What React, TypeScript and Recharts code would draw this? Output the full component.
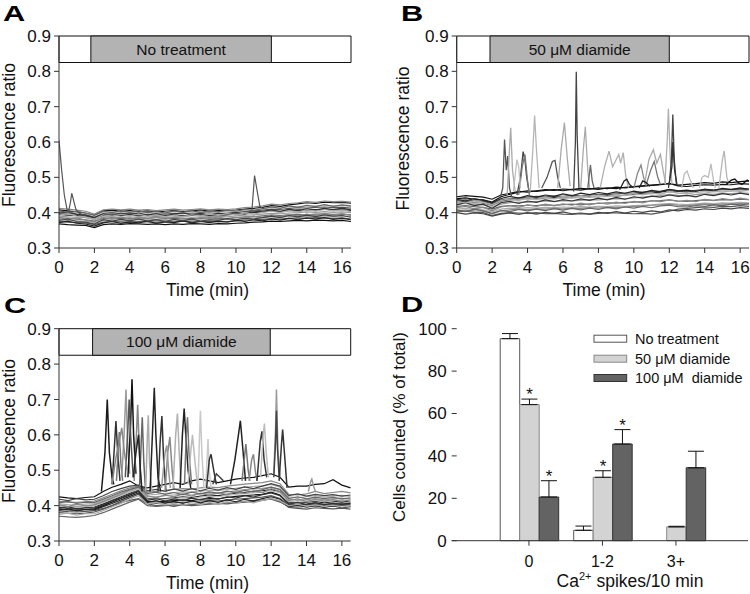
import React from "react";
import { LineChart, Line, XAxis, YAxis, ReferenceArea, BarChart, Bar, ErrorBar, LabelList } from "recharts";

const FONT = "Arial, 'Liberation Sans', Helvetica, sans-serif";

// ---------- shared axes ----------
const TIMES = [0, 0.5, 1, 1.5, 2, 2.5, 3, 3.5, 4, 4.5, 5, 5.5, 6, 6.5, 7, 7.5, 8, 8.5, 9, 9.5, 10, 10.5, 11, 11.5, 12, 12.5, 13, 13.5, 14, 14.5, 15, 15.5, 16, 16.5];
const TIME_TICKS = [0, 2, 4, 6, 8, 10, 12, 14, 16];
const RATIO_TICKS = [0.3, 0.4, 0.5, 0.6, 0.7, 0.8, 0.9];
const TREATMENT_LABELS = ["No treatment", "50 \u03bcM diamide", "100 \u03bcM diamide"];
const TREATMENT_START = [1.8, 1.88, 1.9];
const TREATMENT_END = [12, 12, 11.95];
const TREATMENT_BAND = [0.825, 0.9];

// ---------- Panel A: baseline traces (ratio x1000) ----------
const A_T1 = [408,405,402,398,392,405,407,404,406,403,405,402,404,406,403,405,408,404,406,405,407,410,412,415,420,418,422,425,428,426,430,428,429,427];
const A_T2 = [400,398,396,394,388,398,399,397,398,396,395,397,396,398,397,399,398,400,397,399,401,403,405,407,410,409,412,414,413,415,416,414,415,413];
const A_T3 = [395,393,392,390,385,392,394,392,393,391,392,390,392,393,391,392,394,393,392,394,396,398,400,402,405,404,406,408,407,409,410,408,409,406];
const A_T4 = [390,388,387,386,380,388,389,387,388,386,387,388,386,388,389,387,388,389,390,388,391,393,394,396,398,397,399,400,402,401,403,401,402,400];
const A_T5 = [385,384,382,380,376,383,385,383,384,382,383,381,383,384,382,384,383,385,384,383,386,388,389,391,393,392,394,395,394,396,397,395,396,394];
const A_T6 = [380,378,377,376,372,378,380,379,378,380,377,379,378,380,379,378,380,379,381,380,382,383,385,386,388,387,389,390,389,391,390,389,391,388];
const A_T7 = [368,366,365,364,358,366,368,367,369,368,367,368,366,368,367,369,368,367,369,368,370,371,373,374,376,375,377,378,377,379,378,377,378,375];
const A_T8 = [375,373,372,371,366,373,375,374,373,375,374,373,375,374,376,374,375,376,374,375,377,379,380,381,383,382,384,385,384,386,385,384,385,382];
const A_T9 = [412,410,407,404,396,408,410,408,410,407,409,406,408,410,407,409,411,408,410,409,411,414,416,419,424,422,426,428,431,429,433,431,432,430];
const A_T10 = [403,401,399,397,390,401,403,400,402,400,401,399,401,403,400,402,403,402,401,403,405,407,409,411,414,413,416,418,417,419,421,419,420,418];
const A_T11 = [398,402,395,393,386,396,392,398,394,399,393,397,391,396,399,394,397,392,398,395,400,396,402,404,408,403,410,405,411,407,412,409,413,408];
const A_T12 = [386,382,385,379,374,386,382,388,381,386,383,388,382,387,384,380,386,383,388,382,387,384,390,386,393,389,395,391,396,392,398,393,397,392];
const A_T13 = [372,376,370,368,362,371,375,370,374,371,376,370,374,372,377,371,375,372,376,373,378,375,380,377,382,379,384,380,385,382,386,381,384,380];
const A_T14 = [405,401,404,399,393,404,400,406,401,405,400,404,399,405,401,406,400,405,402,407,404,409,406,411,416,412,419,415,421,417,423,418,422,419];
const A_T15 = [393,397,390,388,382,394,390,395,391,396,390,394,389,393,388,394,391,396,392,397,394,399,396,401,404,400,406,402,408,404,409,405,408,403];
const A_T16 = [378,382,375,373,368,380,376,381,377,382,376,380,375,381,377,382,376,380,378,383,380,384,382,386,390,386,392,388,393,389,394,390,392,387];
const A_SPIKES: number[][][] = [
  [[0,0.605],[0.15,0.52],[0.3,0.45],[0.45,0.41],[0.55,0.405],[0.65,0.43],[0.72,0.455],[0.8,0.44],[0.95,0.41],[1.1,0.4],[1.3,0.395]],
  [[10.7,0.402],[10.9,0.405],[11.05,0.505],[11.2,0.46],[11.35,0.418],[11.55,0.41]],
];

// ---------- Panel B ----------
const B_T1 = [440,442,438,436,430,445,452,458,462,460,463,465,462,466,464,468,466,470,468,472,474,476,478,480,482,478,480,482,485,483,487,485,488,490];
const B_T2 = [402,404,401,400,392,398,400,399,398,400,397,398,396,395,397,396,398,400,399,398,397,398,396,400,404,410,412,414,416,415,418,417,420,418];
const B_T3 = [430,432,428,426,420,432,436,438,440,442,440,443,441,444,443,446,445,448,446,450,452,455,456,458,462,460,459,462,464,463,466,465,467,466];
const B_T4 = [425,426,424,422,415,424,428,430,429,431,433,432,434,433,435,437,436,438,440,439,442,444,446,448,452,449,448,451,453,452,455,454,456,455];
const B_T5 = [418,420,417,415,410,418,420,419,421,420,422,421,423,424,422,425,426,428,427,429,430,431,433,434,436,433,432,434,436,435,437,436,438,437];
const B_T6 = [410,412,409,408,402,410,413,412,414,413,415,414,416,415,417,416,418,417,419,418,420,421,422,424,426,424,423,425,427,426,428,427,429,428];
const B_T7 = [445,448,446,444,438,450,455,460,458,462,465,463,467,465,469,467,470,468,472,470,473,475,477,479,483,476,474,477,479,478,480,479,482,481];
const B_T8 = [435,436,434,432,425,436,440,442,444,446,445,447,446,449,448,450,452,451,453,455,456,458,460,461,465,462,460,463,465,464,466,466,468,467];
const B_T9 = [405,407,405,404,396,405,408,410,409,411,410,412,411,413,412,414,413,415,414,416,418,419,421,422,424,421,420,422,424,423,425,424,426,425];
const B_T10 = [428,430,427,425,418,430,434,436,438,437,440,439,442,441,443,444,446,445,447,449,450,452,453,455,458,456,455,458,460,459,462,461,463,462];
const B_T11 = [422,428,420,424,412,428,432,426,433,429,436,431,437,433,439,435,441,436,443,438,445,441,447,444,450,446,449,445,452,448,454,450,455,451];
const B_T12 = [414,418,411,415,405,416,420,415,422,418,424,419,425,421,427,422,428,424,430,426,432,428,434,431,436,432,435,431,438,434,440,436,441,437];
const B_T13 = [438,433,440,435,428,440,446,441,448,444,450,446,453,448,455,451,457,453,459,455,461,457,463,459,466,462,464,460,467,463,469,465,470,466];
const B_T14 = [408,403,410,405,398,406,403,409,405,410,406,411,407,412,408,413,409,415,411,416,413,418,414,419,421,417,416,420,418,422,420,424,422,425];
const B_T15 = [432,427,434,429,422,434,439,435,442,438,444,440,446,442,448,444,450,446,452,448,454,450,456,452,460,455,453,457,455,460,458,462,460,464];
const B_T16 = [400,396,399,397,390,396,399,395,400,396,401,398,402,397,399,396,401,398,403,399,404,401,405,402,408,405,409,407,411,409,413,411,414,412];
const B_SPIKES: number[][][] = [
  [[2.45,0.44],[2.6,0.47],[2.7,0.607],[2.8,0.52],[2.88,0.56],[2.98,0.47],[3.1,0.445]],
  [[2.85,0.45],[3.0,0.6],[3.05,0.64],[3.15,0.52],[3.3,0.46]],
  [[3.4,0.45],[3.6,0.5],[3.75,0.573],[3.85,0.55],[3.95,0.5],[4.1,0.455]],
  [[3.5,0.45],[3.7,0.53],[3.85,0.565],[4.0,0.49],[4.1,0.45]],
  [[4.15,0.46],[4.3,0.58],[4.4,0.675],[4.5,0.58],[4.65,0.47]],
  [[3.2,0.46],[3.4,0.55],[3.5,0.53],[3.6,0.47]],
  [[4.8,0.47],[5.1,0.5],[5.4,0.545],[5.55,0.548],[5.7,0.5],[5.85,0.47]],
  [[5.7,0.47],[5.9,0.58],[6.08,0.655],[6.25,0.55],[6.4,0.475]],
  [[6.6,0.46],[6.7,0.6],[6.75,0.799],[6.8,0.62],[6.9,0.47]],
  [[7.0,0.47],[7.15,0.58],[7.26,0.643],[7.4,0.52],[7.5,0.47]],
  [[7.4,0.47],[7.55,0.535],[7.65,0.49],[7.75,0.47]],
  [[8.1,0.47],[8.35,0.53],[8.6,0.574],[8.8,0.53],[9.0,0.55],[9.15,0.565],[9.25,0.54],[9.4,0.57],[9.55,0.5],[9.7,0.47]],
  [[9.2,0.465],[9.45,0.49],[9.6,0.495],[9.75,0.48],[10.0,0.47]],
  [[10.0,0.47],[10.2,0.51],[10.4,0.535],[10.55,0.5],[10.7,0.475]],
  [[10.6,0.48],[10.85,0.55],[11.1,0.578],[11.3,0.54],[11.5,0.565],[11.65,0.52],[11.8,0.48]],
  [[10.7,0.48],[10.95,0.52],[11.15,0.545],[11.35,0.5],[11.5,0.48]],
  [[11.75,0.48],[11.88,0.6],[11.95,0.695],[12.05,0.56],[12.15,0.48]],
  [[12.0,0.48],[12.12,0.55],[12.2,0.678],[12.28,0.55],[12.4,0.48]],
  [[11.95,0.47],[12.15,0.53],[12.2,0.6],[12.3,0.52],[12.45,0.475]],
  [[12.7,0.47],[12.85,0.51],[13.0,0.518],[13.2,0.49],[13.35,0.47]],
  [[13.7,0.47],[13.85,0.5],[14.0,0.505],[14.2,0.5],[14.35,0.538],[14.5,0.49],[14.6,0.47]],
  [[14.8,0.47],[15.0,0.55],[15.1,0.575],[15.25,0.5],[15.4,0.475]],
  [[15.2,0.48],[15.5,0.492],[15.7,0.495],[15.9,0.485],[16.1,0.48],[16.4,0.492],[16.5,0.488]],
  [[10.3,0.47],[10.5,0.49],[10.7,0.485],[10.9,0.475]],
];

// ---------- Panel C ----------
const C_T1 = [425,422,420,423,425,440,452,460,470,455,450,455,460,465,460,470,475,470,465,470,475,478,480,485,490,480,452,455,455,460,462,473,458,450];
const C_T2 = [385,383,382,384,386,392,400,408,415,420,405,400,402,398,403,400,402,404,406,405,408,410,412,415,420,412,395,392,390,394,392,391,393,390];
const C_T3 = [395,393,392,394,396,405,415,425,435,445,420,418,420,422,425,423,427,430,428,432,435,437,440,442,445,440,410,408,410,412,408,411,413,410];
const C_T4 = [400,398,397,399,401,410,420,430,440,448,425,425,428,430,432,430,434,436,435,439,442,445,447,449,452,445,418,415,417,420,416,419,421,418];
const C_T5 = [370,368,367,369,372,380,390,400,410,418,400,398,400,402,401,403,405,406,405,408,410,412,414,416,418,410,398,396,398,400,397,399,401,398];
const C_T6 = [405,403,402,404,406,415,425,435,442,450,430,432,435,437,439,438,441,443,442,446,449,452,454,456,460,452,425,422,425,428,424,427,429,426];
const C_T7 = [390,388,387,389,391,400,410,420,430,440,412,410,412,414,416,414,418,420,419,423,426,428,430,432,438,430,405,402,404,408,403,406,408,405];
const C_T8 = [380,378,377,379,382,390,400,412,422,432,408,406,408,410,409,411,413,414,413,416,418,420,422,424,428,420,402,400,402,404,401,403,405,402];
const C_T9 = [412,410,409,411,413,422,432,442,450,455,438,440,443,446,448,447,450,452,451,455,458,461,463,465,470,462,432,430,433,440,434,437,440,436];
const C_T10 = [398,396,395,397,399,408,418,428,438,446,418,416,418,420,422,420,424,426,425,429,432,434,436,438,442,436,412,410,412,415,411,414,416,413];
const C_T11 = [392,397,390,394,393,402,414,422,432,442,415,420,413,419,414,421,416,423,418,425,421,428,424,431,436,428,404,409,403,408,402,407,403,406];
const C_T12 = [402,397,404,399,403,412,422,432,444,452,428,422,430,425,433,427,435,429,437,431,439,434,442,436,448,440,414,419,412,418,413,417,412,416];
const C_T13 = [387,391,385,389,388,397,406,416,426,436,409,414,407,412,406,413,408,414,409,416,411,418,413,420,425,418,397,402,396,400,395,399,394,397];
const C_T14 = [408,412,406,410,409,418,428,438,446,453,434,438,432,437,431,438,433,439,435,441,437,443,439,445,452,446,420,425,419,424,420,423,419,422];
const C_T15 = [375,379,373,377,377,386,396,406,418,428,404,409,402,407,401,408,403,409,404,411,406,413,408,415,420,414,399,404,398,402,397,401,396,399];
const C_T16 = [418,414,420,416,418,428,440,448,455,458,442,446,440,447,441,448,442,449,444,451,446,453,448,455,462,455,428,433,427,432,428,431,427,430];
const C_SPIKES: number[][][] = [
  [[2.4,0.44],[2.6,0.55],[2.73,0.7],[2.85,0.55],[3.0,0.48],[3.1,0.46]],
  [[3.0,0.46],[3.15,0.58],[3.22,0.639],[3.32,0.55],[3.45,0.47]],
  [[3.25,0.47],[3.35,0.56],[3.41,0.608],[3.5,0.52],[3.6,0.47]],
  [[3.55,0.48],[3.7,0.62],[3.79,0.728],[3.88,0.58],[4.0,0.49]],
  [[3.9,0.48],[4.05,0.63],[4.13,0.757],[4.22,0.6],[4.35,0.49]],
  [[3.75,0.48],[3.9,0.62],[3.97,0.7],[4.05,0.6],[4.2,0.48]],
  [[4.25,0.47],[4.38,0.6],[4.45,0.685],[4.55,0.55],[4.65,0.46]],
  [[4.55,0.45],[4.65,0.58],[4.71,0.65],[4.8,0.52],[4.9,0.44]],
  [[4.9,0.44],[5.0,0.6],[5.05,0.655],[5.12,0.52],[5.25,0.44]],
  [[5.15,0.44],[5.3,0.62],[5.39,0.733],[5.48,0.6],[5.6,0.48],[5.75,0.44]],
  [[5.6,0.44],[5.72,0.58],[5.82,0.653],[5.92,0.53],[6.05,0.44]],
  [[6.0,0.44],[6.15,0.55],[6.27,0.594],[6.4,0.5],[6.5,0.45]],
  [[6.45,0.45],[6.6,0.6],[6.7,0.66],[6.8,0.55],[6.9,0.46]],
  [[6.85,0.45],[6.98,0.6],[7.08,0.674],[7.17,0.6],[7.3,0.5],[7.45,0.45]],
  [[7.1,0.46],[7.2,0.6],[7.27,0.65],[7.35,0.55],[7.5,0.46]],
  [[7.85,0.44],[7.95,0.6],[8.0,0.668],[8.08,0.55],[8.2,0.45]],
  [[8.3,0.45],[8.4,0.56],[8.43,0.588],[8.5,0.5],[8.6,0.45]],
  [[8.35,0.45],[8.5,0.53],[8.6,0.545],[8.75,0.5],[8.9,0.46]],
  [[5.8,0.45],[6.0,0.55],[6.1,0.57],[6.2,0.5],[6.3,0.45]],
  [[9.7,0.46],[9.95,0.53],[10.15,0.6],[10.26,0.64],[10.4,0.56],[10.55,0.47]],
  [[10.35,0.47],[10.5,0.54],[10.57,0.574],[10.7,0.5],[10.8,0.47]],
  [[10.75,0.47],[10.9,0.53],[11.0,0.545],[11.1,0.5],[11.2,0.47]],
  [[11.2,0.47],[11.38,0.58],[11.48,0.61],[11.6,0.53],[11.75,0.48]],
  [[11.4,0.48],[11.55,0.6],[11.62,0.632],[11.72,0.55],[11.85,0.48]],
  [[12.15,0.49],[12.25,0.62],[12.3,0.728],[12.38,0.56],[12.5,0.48]],
  [[12.15,0.48],[12.25,0.58],[12.3,0.668],[12.36,0.56],[12.45,0.48]],
  [[12.45,0.47],[12.58,0.57],[12.65,0.615],[12.75,0.55],[12.9,0.45]],
  [[14.1,0.44],[14.25,0.47],[14.3,0.475],[14.4,0.455],[14.5,0.44]],
  [[3.0,0.46],[3.2,0.53],[3.4,0.58],[3.55,0.62],[3.7,0.55],[3.85,0.5]],
  [[4.2,0.48],[4.35,0.55],[4.5,0.6],[4.6,0.5],[4.7,0.44]],
  [[7.3,0.46],[7.45,0.55],[7.55,0.6],[7.7,0.52],[7.85,0.45]],
  [[8.7,0.46],[8.9,0.49],[9.1,0.48],[9.3,0.47]],
];

// ---------- Panel D ----------
const D_CATEGORIES = ["0", "1-2", "3+"];
const D_NO_TREATMENT = [95.3, 4.9, 0];
const D_NO_TREATMENT_ERR = [2.4, 2.0, 0];
const D_DIAMIDE_50 = [64.2, 29.9, 6.5];
const D_DIAMIDE_50_ERR = [2.6, 3.1, 0.3];
const D_DIAMIDE_100 = [20.6, 45.6, 34.4];
const D_DIAMIDE_100_ERR = [7.7, 6.8, 7.8];
const D_STAR_50 = [true, true, false];
const D_STAR_100 = [true, true, false];
const D_Y_TICKS = [0, 20, 40, 60, 80, 100];
const D_LEGEND = ["No treatment", "50 \u03bcM diamide", "100 \u03bcM  diamide"];

// ---------- styles ----------
const BASE_COLORS = ["#111", "#555", "#222", "#999", "#666", "#aaa", "#111", "#555", "#888", "#bbb", "#333", "#888", "#222", "#666", "#aaa", "#444"];
const A_SPIKE_COLORS = ["#555", "#555"];
const B_SPIKE_COLORS = ["#555", "#aaa", "#444", "#777", "#b5b5b5", "#c0c0c0", "#555", "#aaa", "#444", "#aaa", "#666", "#b0b0b0", "#222", "#888", "#aaa", "#777", "#b0b0b0", "#444", "#333", "#bbb", "#bbb", "#b5b5b5", "#111", "#222"];
const C_SPIKE_COLORS = ["#1a1a1a", "#333", "#777", "#999", "#111", "#555", "#888", "#666", "#aaa", "#222", "#333", "#888", "#b0b0b0", "#222", "#777", "#c8c8c8", "#ccc", "#333", "#999", "#222", "#777", "#888", "#333", "#bbb", "#999", "#444", "#333", "#999", "#888", "#222", "#bbb", "#444"];
const BAR_FILLS = ["#ffffff", "#d3d3d3", "#636363"];
const BAR_STROKES = ["#555", "#888", "#333"];

type Pt = { t: number; v: number };
const toTrace = (vals: number[]): Pt[] => TIMES.map((t, i) => ({ t, v: vals[i] / 1000 }));
const toSeg = (pairs: number[][]): Pt[] => pairs.map(([t, v]) => ({ t, v }));

const PANELS = [
  { base: [A_T1, A_T2, A_T3, A_T4, A_T5, A_T6, A_T7, A_T8, A_T9, A_T10, A_T11, A_T12, A_T13, A_T14, A_T15, A_T16], spikes: A_SPIKES, spikeColors: A_SPIKE_COLORS, spikeWidth: 1.2, left: 0, top: 0, yWidth: 59, xHeight: 49, mTop: 36, mRight: 24 },
  { base: [B_T1, B_T2, B_T3, B_T4, B_T5, B_T6, B_T7, B_T8, B_T9, B_T10, B_T11, B_T12, B_T13, B_T14, B_T15, B_T16], spikes: B_SPIKES, spikeColors: B_SPIKE_COLORS, spikeWidth: 1.3, left: 375, top: 0, yWidth: 81.7, xHeight: 49, mTop: 36, mRight: 1 },
  { base: [C_T1, C_T2, C_T3, C_T4, C_T5, C_T6, C_T7, C_T8, C_T9, C_T10, C_T11, C_T12, C_T13, C_T14, C_T15, C_T16], spikes: C_SPIKES, spikeColors: C_SPIKE_COLORS, spikeWidth: 1.5, left: 0, top: 297, yWidth: 59, xHeight: 53, mTop: 31.7, mRight: 24.3 },
];

const tickStyle = { fill: "#111", fontSize: 17, fontFamily: FONT };
const dTickStyle = { fill: "#111", fontSize: 16, fontFamily: FONT };

function TracePanel({ idx }: { idx: number }) {
  const p = PANELS[idx];
  return (
    <div style={{ position: "absolute", left: p.left, top: p.top }}>
      <LineChart width={375} height={297} margin={{ top: p.mTop, right: p.mRight, bottom: 0, left: 0 }}>
        <XAxis type="number" dataKey="t" domain={[0, 16.5]} ticks={TIME_TICKS} interval={0} height={p.xHeight} tickSize={5} tickMargin={8} stroke="#333" tick={tickStyle} allowDataOverflow />
        <YAxis type="number" dataKey="v" domain={[0.3, 0.9]} ticks={RATIO_TICKS} interval={0} width={p.yWidth} tickSize={5} tickMargin={3} stroke="#333" tick={tickStyle} tickFormatter={(v: number) => v.toFixed(1)} allowDataOverflow />
        <ReferenceArea x1={0} x2={16.5} y1={TREATMENT_BAND[0]} y2={TREATMENT_BAND[1]} fill="#ffffff" fillOpacity={1} stroke="#111" strokeWidth={1} />
        <ReferenceArea
          x1={TREATMENT_START[idx]}
          x2={TREATMENT_END[idx]}
          y1={TREATMENT_BAND[0]}
          y2={TREATMENT_BAND[1]}
          fill="#b3b3b3"
          fillOpacity={1}
          stroke="#111"
          strokeWidth={1}
          label={{ value: TREATMENT_LABELS[idx], position: "center", fill: "#111", fontSize: 15.5, fontFamily: FONT }}
        />
        {p.base.map((vals, i) => (
          <Line key={"b" + i} data={toTrace(vals)} dataKey="v" type="linear" stroke={BASE_COLORS[i]} strokeWidth={1.2} dot={false} activeDot={false} isAnimationActive={false} />
        ))}
        {p.spikes.map((seg, i) => (
          <Line key={"s" + i} data={toSeg(seg)} dataKey="v" type="linear" stroke={p.spikeColors[i]} strokeWidth={p.spikeWidth} dot={false} activeDot={false} isAnimationActive={false} />
        ))}
      </LineChart>
    </div>
  );
}

const D_DATA = D_CATEGORIES.map((cat, i) => ({
  cat,
  nt: D_NO_TREATMENT[i],
  ntErr: [0, D_NO_TREATMENT_ERR[i]],
  d50: D_DIAMIDE_50[i],
  d50Err: [0, D_DIAMIDE_50_ERR[i]],
  d100: D_DIAMIDE_100[i],
  d100Err: [0, D_DIAMIDE_100_ERR[i]],
}));

const starLabel = (errs: number[], stars: boolean[]) => (props: any) => {
  const vb = props.viewBox && props.viewBox.width !== undefined ? props.viewBox : props;
  const { x, y, width, height } = vb;
  const idx = props.index;
  const value = Number(props.value);
  if (!stars[idx] || !value) return null;
  const top = Math.min(y, y + height);
  const pxPerUnit = Math.abs(height) / value;
  const errTop = top - errs[idx] * pxPerUnit;
  return (
    <text x={x + width / 2} y={errTop + 1} textAnchor="middle" fontSize={17} fontFamily={FONT} fill="#111">
      *
    </text>
  );
};

const DYTick = (props: any) => {
  const { x, y, payload } = props;
  return (
    <g>
      <line x1={x + 5} x2={x + 10} y1={y} y2={y} stroke="#333" />
      <text x={x} y={y} dy="0.35em" textAnchor="end" fontSize={17} fontFamily={FONT} fill="#111">
        {payload.value}
      </text>
    </g>
  );
};

function BarPanel() {
  return (
    <div style={{ position: "absolute", left: 375, top: 297 }}>
      <BarChart width={375} height={297} data={D_DATA} margin={{ top: 31.7, right: 2, bottom: 0, left: 0 }} barGap={0} barSize={19.5}>
        <XAxis dataKey="cat" height={53.3} padding={{ left: 40.5, right: 35.3 }} interval={0} tickSize={5} tickMargin={10} stroke="#333" tick={dTickStyle} />
        <YAxis type="number" domain={[0, 100]} ticks={D_Y_TICKS} interval={0} width={76.7} axisLine={false} tickLine={false} tickSize={5} tickMargin={0} tick={DYTick} />
        <Bar dataKey="nt" fill={BAR_FILLS[0]} stroke={BAR_STROKES[0]} strokeWidth={1} isAnimationActive={false}>
          <ErrorBar dataKey="ntErr" width={8} stroke="#111" strokeWidth={1} direction="y" />
        </Bar>
        <Bar dataKey="d50" fill={BAR_FILLS[1]} stroke={BAR_STROKES[1]} strokeWidth={1} isAnimationActive={false}>
          <ErrorBar dataKey="d50Err" width={8} stroke="#111" strokeWidth={1} direction="y" />
          <LabelList dataKey="d50" content={starLabel(D_DIAMIDE_50_ERR, D_STAR_50)} />
        </Bar>
        <Bar dataKey="d100" fill={BAR_FILLS[2]} stroke={BAR_STROKES[2]} strokeWidth={1} isAnimationActive={false}>
          <ErrorBar dataKey="d100Err" width={8} stroke="#111" strokeWidth={1} direction="y" />
          <LabelList dataKey="d100" content={starLabel(D_DIAMIDE_100_ERR, D_STAR_100)} />
        </Bar>
      </BarChart>
    </div>
  );
}

function Overlay() {
  const legendRows = [338.7, 358.7, 378];
  return (
    <svg width={750} height={594} style={{ position: "absolute", left: 0, top: 0, pointerEvents: "none" }} fontFamily={FONT}>
      <text transform="translate(3,21) scale(1.4,1)" fontSize={22} fontWeight="bold" fill="#000">A</text>
      <text transform="translate(401,21) scale(1.4,1)" fontSize={22} fontWeight="bold" fill="#000">B</text>
      <text transform="translate(4,313) scale(1.4,1)" fontSize={22} fontWeight="bold" fill="#000">C</text>
      <text transform="translate(401,312) scale(1.4,1)" fontSize={22} fontWeight="bold" fill="#000">D</text>

      <text transform="translate(15,135) rotate(-90)" textAnchor="middle" fontSize={17.5} fill="#111">Fluorescence ratio</text>
      <text transform="translate(408.5,138.5) rotate(-90)" textAnchor="middle" fontSize={17.5} fill="#111">Fluorescence ratio</text>
      <text transform="translate(15,431) rotate(-90)" textAnchor="middle" fontSize={17.5} fill="#111">Fluorescence ratio</text>
      <text transform="translate(405,427) rotate(-90)" textAnchor="middle" fontSize={17} fill="#111">Cells counted (% of total)</text>

      <text x={207.5} y={296} textAnchor="middle" fontSize={17.5} fill="#111">Time (min)</text>
      <text x={604} y={296} textAnchor="middle" fontSize={17.5} fill="#111">Time (min)</text>
      <text x={207.5} y={589} textAnchor="middle" fontSize={17.5} fill="#111">Time (min)</text>
      <text x={630} y={587} textAnchor="middle" fontSize={17.5} fill="#111">
        Ca<tspan dy={-7} fontSize={11}>2+</tspan>
        <tspan dy={7}> spikes/10 min</tspan>
      </text>

      {D_LEGEND.map((name, i) => (
        <g key={name}>
          <rect x={594} y={legendRows[i] - 3.5} width={32.7} height={7} fill={BAR_FILLS[i]} stroke={BAR_STROKES[i]} strokeWidth={1} />
          <text x={635} y={legendRows[i] + 5} fontSize={14.5} fill="#111" style={{ whiteSpace: "pre" }}>{name}</text>
        </g>
      ))}
    </svg>
  );
}

export default function App() {
  return (
    <div style={{ position: "absolute", left: 0, top: 0, width: 750, height: 594, background: "#fff", overflow: "hidden" }}>
      <TracePanel idx={0} />
      <TracePanel idx={1} />
      <TracePanel idx={2} />
      <BarPanel />
      <Overlay />
    </div>
  );
}
